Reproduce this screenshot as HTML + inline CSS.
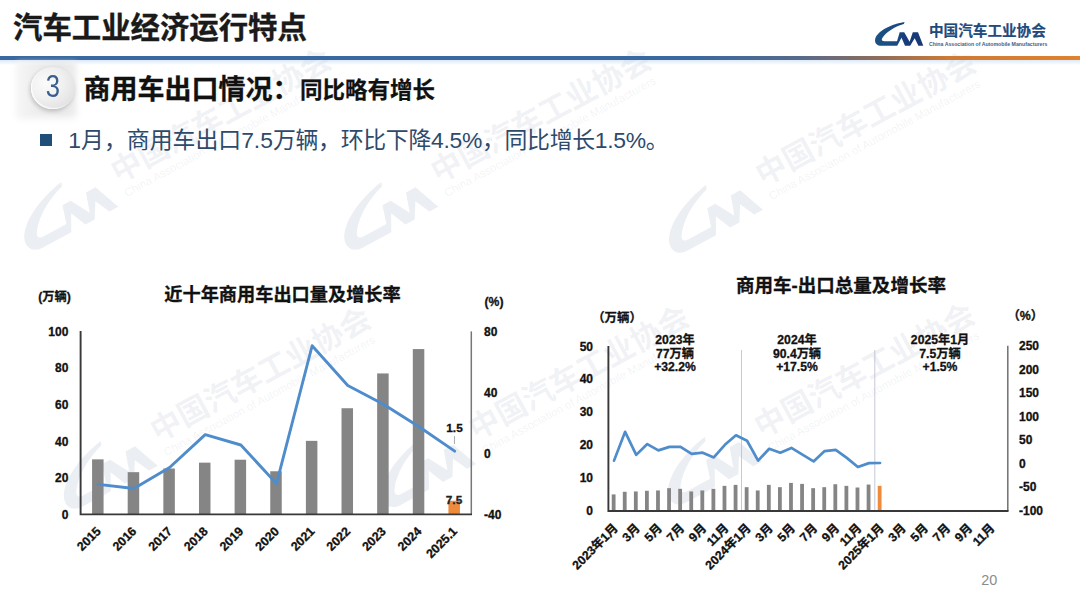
<!DOCTYPE html>
<html lang="zh-CN">
<head>
<meta charset="utf-8">
<title>汽车工业经济运行特点</title>
<style>
  html, body { margin: 0; padding: 0; background: #ffffff; }
  body { width: 1080px; height: 607px; overflow: hidden; }
  #slide {
    position: relative; width: 1080px; height: 607px; overflow: hidden;
    background: #ffffff;
    font-family: "Liberation Sans", "Noto Sans CJK SC", sans-serif;
    color: #111;
  }
  .abs { position: absolute; white-space: nowrap; line-height: 1; }
  #title { left: 13px; top: 13.2px; font-size: 29.4px; font-weight: bold; color: #1a1a1a; letter-spacing: 0px; -webkit-text-stroke: 0.35px #1a1a1a; }
  #rule { position: absolute; left: 0; top: 56.2px; width: 1080px; height: 3.5px;
    background: linear-gradient(to right, #3a699f 0%, #3a699f 64%, #566a8c 74%, #8c6c5c 81%, #cf7a32 88%, #e0822e 100%); }
  #rule2 { position: absolute; left: 0; top: 59.5px; width: 1080px; height: 5px;
    background: linear-gradient(to bottom, rgba(190,215,240,0.55), rgba(255,255,255,0)); }

  /* badge */
  #badge-bg { position: absolute; left: 17px; top: 62px; width: 59px; height: 53px;
    background: linear-gradient(to right, #f6f6f6 0%, #ededed 35%, #e6e6e6 70%, #eeeeee 100%);
    box-shadow: 0 3px 6px rgba(0,0,0,0.07); filter: blur(2.6px); }
  #badge { position: absolute; left: 30.5px; top: 67px; width: 44px; height: 41.5px; border-radius: 50%;
    background: radial-gradient(ellipse at 34% 38%, #fbfbfb 0%, #f1f1f1 40%, #e0e0e0 82%, #efefef 100%);
    box-shadow: -1px 2px 4px rgba(0,0,0,0.20), inset 1px -1px 1px rgba(255,255,255,0.9); }
  #badge-num { left: 31px; top: 71.3px; width: 44px; text-align: center; font-size: 30.5px; color: #3a5f8f; transform: scaleX(0.84); }

  #sec1 { left: 83.5px; top: 77px; font-size: 27px; font-weight: bold; color: #111; -webkit-text-stroke: 0.3px #111; }
  #sec2 { left: 300px; top: 80px; font-size: 22.5px; font-weight: bold; color: #111; -webkit-text-stroke: 0.25px #111; }

  #bullet { position: absolute; left: 40px; top: 134px; width: 12px; height: 12px; background: #1f4e79; }
  #btext { left: 68.3px; top: 128.5px; font-size: 22.88px; color: #2d4a6b; }

  #pageno { left: 981.3px; top: 572.6px; font-size: 14.4px; color: #8c8c8c; }

  /* logo */
  #logo-cn { left: 929px; top: 23.5px; font-size: 14.6px; font-weight: bold; color: #1f4a7c; -webkit-text-stroke: 0.2px #1f4a7c; }
  #logo-en { left: 929px; top: 41.8px; font-size: 5.2px; font-weight: bold; color: #3f5f86; }

  svg text { font-family: "Liberation Sans", "Noto Sans CJK SC", sans-serif; }
  svg text.hv { stroke: #111; stroke-width: 0.3px; paint-order: stroke; }
</style>
</head>
<body>
<div id="slide">

  <!-- WATERMARKS -->
  <svg class="abs" style="left:0;top:0" width="1080" height="607" viewBox="0 0 1080 607">
  <g fill="#6a7c9c">
  <g transform="translate(8,211) rotate(-28.5)"><path transform="scale(2.05)" fill-opacity="0.135" d="M29.6 0 C17 2 3 8.5 0.3 16.5 C-0.8 20.5 1.5 23.8 6.5 23.8 L22.2 23.8 L26.5 15.7 L30 23.8 L35.2 23.8 L39.7 16.2 L43.4 23.8 L48.3 23.8 L43 10.2 L37.8 10.2 L34.6 19.8 L29.2 10.2 L24.7 10.2 L22 19.2 L9.5 19.2 C6.5 19.2 6 17.5 8 15 C12 9.5 20 4.5 28.8 2 Z"/><text x="110" y="28.4" font-size="30.7" font-weight="bold" fill-opacity="0.10">中国汽车工业协会</text><text x="111" y="44.5" font-size="11.4" fill-opacity="0.095">China Association of Automobile Manufacturers</text></g>
  <g transform="translate(328,211) rotate(-28.5)"><path transform="scale(2.05)" fill-opacity="0.135" d="M29.6 0 C17 2 3 8.5 0.3 16.5 C-0.8 20.5 1.5 23.8 6.5 23.8 L22.2 23.8 L26.5 15.7 L30 23.8 L35.2 23.8 L39.7 16.2 L43.4 23.8 L48.3 23.8 L43 10.2 L37.8 10.2 L34.6 19.8 L29.2 10.2 L24.7 10.2 L22 19.2 L9.5 19.2 C6.5 19.2 6 17.5 8 15 C12 9.5 20 4.5 28.8 2 Z"/><text x="110" y="28.4" font-size="30.7" font-weight="bold" fill-opacity="0.10">中国汽车工业协会</text><text x="111" y="44.5" font-size="11.4" fill-opacity="0.095">China Association of Automobile Manufacturers</text></g>
  <g transform="translate(652.7,214) rotate(-28.5)"><path transform="scale(2.05)" fill-opacity="0.135" d="M29.6 0 C17 2 3 8.5 0.3 16.5 C-0.8 20.5 1.5 23.8 6.5 23.8 L22.2 23.8 L26.5 15.7 L30 23.8 L35.2 23.8 L39.7 16.2 L43.4 23.8 L48.3 23.8 L43 10.2 L37.8 10.2 L34.6 19.8 L29.2 10.2 L24.7 10.2 L22 19.2 L9.5 19.2 C6.5 19.2 6 17.5 8 15 C12 9.5 20 4.5 28.8 2 Z"/><text x="110" y="28.4" font-size="30.7" font-weight="bold" fill-opacity="0.10">中国汽车工业协会</text><text x="111" y="44.5" font-size="11.4" fill-opacity="0.095">China Association of Automobile Manufacturers</text></g>
  <g transform="translate(47.5,470) rotate(-28.5)"><path transform="scale(2.05)" fill-opacity="0.135" d="M29.6 0 C17 2 3 8.5 0.3 16.5 C-0.8 20.5 1.5 23.8 6.5 23.8 L22.2 23.8 L26.5 15.7 L30 23.8 L35.2 23.8 L39.7 16.2 L43.4 23.8 L48.3 23.8 L43 10.2 L37.8 10.2 L34.6 19.8 L29.2 10.2 L24.7 10.2 L22 19.2 L9.5 19.2 C6.5 19.2 6 17.5 8 15 C12 9.5 20 4.5 28.8 2 Z"/><text x="110" y="28.4" font-size="30.7" font-weight="bold" fill-opacity="0.10">中国汽车工业协会</text><text x="111" y="44.5" font-size="11.4" fill-opacity="0.095">China Association of Automobile Manufacturers</text></g>
  <g transform="translate(365.7,468.4) rotate(-28.5)"><path transform="scale(2.05)" fill-opacity="0.135" d="M29.6 0 C17 2 3 8.5 0.3 16.5 C-0.8 20.5 1.5 23.8 6.5 23.8 L22.2 23.8 L26.5 15.7 L30 23.8 L35.2 23.8 L39.7 16.2 L43.4 23.8 L48.3 23.8 L43 10.2 L37.8 10.2 L34.6 19.8 L29.2 10.2 L24.7 10.2 L22 19.2 L9.5 19.2 C6.5 19.2 6 17.5 8 15 C12 9.5 20 4.5 28.8 2 Z"/><text x="110" y="28.4" font-size="30.7" font-weight="bold" fill-opacity="0.10">中国汽车工业协会</text><text x="111" y="44.5" font-size="11.4" fill-opacity="0.095">China Association of Automobile Manufacturers</text></g>
  <g transform="translate(651.6,465.8) rotate(-28.5)"><path transform="scale(2.05)" fill-opacity="0.135" d="M29.6 0 C17 2 3 8.5 0.3 16.5 C-0.8 20.5 1.5 23.8 6.5 23.8 L22.2 23.8 L26.5 15.7 L30 23.8 L35.2 23.8 L39.7 16.2 L43.4 23.8 L48.3 23.8 L43 10.2 L37.8 10.2 L34.6 19.8 L29.2 10.2 L24.7 10.2 L22 19.2 L9.5 19.2 C6.5 19.2 6 17.5 8 15 C12 9.5 20 4.5 28.8 2 Z"/><text x="110" y="28.4" font-size="30.7" font-weight="bold" fill-opacity="0.10">中国汽车工业协会</text><text x="111" y="44.5" font-size="11.4" fill-opacity="0.095">China Association of Automobile Manufacturers</text></g>
  </g></svg>

  <div id="title" class="abs">汽车工业经济运行特点</div>
  <div id="rule"></div>
  <div id="rule2"></div>

  <!-- logo -->
  <svg class="abs" style="left:875px; top:21.6px;" width="50" height="25" viewBox="0 0 50 25">
    <linearGradient id="lg" x1="0" y1="0" x2="1" y2="0"><stop offset="0" stop-color="#1c5283"/><stop offset="0.45" stop-color="#1b4b80"/><stop offset="0.62" stop-color="#173c7a"/><stop offset="1" stop-color="#173a74"/></linearGradient>
    <path fill="url(#lg)" d="M29.6 0 C17 2 3 8.5 0.3 16.5 C-0.8 20.5 1.5 23.8 6.5 23.8 L22.2 23.8 L26.5 15.7 L30 23.8 L35.2 23.8 L39.7 16.2 L43.4 23.8 L48.3 23.8 L43 10.2 L37.8 10.2 L34.6 19.8 L29.2 10.2 L24.7 10.2 L22 19.2 L9.5 19.2 C6.5 19.2 6 17.5 8 15 C12 9.5 20 4.5 28.8 2 Z"/>
  </svg>
  <div id="logo-cn" class="abs">中国汽车工业协会</div>
  <div id="logo-en" class="abs">China Association of Automobile Manufacturers</div>

  <!-- section header -->
  <div id="badge-bg"></div>
  <div id="badge"></div>
  <div id="badge-num" class="abs">3</div>
  <div id="sec1" class="abs">商用车出口情况：</div>
  <div id="sec2" class="abs">同比略有增长</div>

  <div id="bullet"></div>
  <div id="btext" class="abs">1月，商用车出口7.5<span style="letter-spacing:-0.3px">万辆，环比下降4.5%，同比增长1.5%。</span></div>

  <!-- CHARTS -->
  <svg class="abs" style="left:0;top:0" width="1080" height="607" viewBox="0 0 1080 607">
  <g id="chart-left">
  <text class="hv" x="282.5" y="301" font-size="18.2" font-weight="bold" text-anchor="middle" fill="#111">近十年商用车出口量及增长率</text>
  <text class="hv" x="54.5" y="301.4" font-size="12.2" font-weight="bold" text-anchor="middle" fill="#111">(万辆)</text>
  <text class="hv" x="494" y="305.8" font-size="12.2" font-weight="bold" text-anchor="middle" fill="#111">(%)</text>
  <rect x="92.07" y="459.36" width="11.5" height="55.14" fill="#858585"/>
  <rect x="127.7" y="472.18" width="11.5" height="42.32" fill="#858585"/>
  <rect x="163.34" y="468.52" width="11.5" height="45.98" fill="#858585"/>
  <rect x="198.98" y="462.65" width="11.5" height="51.85" fill="#858585"/>
  <rect x="234.61" y="459.72" width="11.5" height="54.78" fill="#858585"/>
  <rect x="270.25" y="471.26" width="11.5" height="43.24" fill="#858585"/>
  <rect x="305.89" y="440.85" width="11.5" height="73.65" fill="#858585"/>
  <rect x="341.52" y="408.24" width="11.5" height="106.26" fill="#858585"/>
  <rect x="377.16" y="373.44" width="11.5" height="141.06" fill="#858585"/>
  <rect x="412.8" y="349.07" width="11.5" height="165.43" fill="#858585"/>
  <rect x="448.43" y="500.76" width="11.5" height="13.74" fill="#ed8a3c"/>
  <path d="M471.3 331.4 V514" fill="none" stroke="#767676" stroke-width="1.5"/><path d="M80.6 331 V514.4 H472" fill="none" stroke="#383838" stroke-width="1.9"/>
  <text class="hv" x="68.4" y="518.8" font-size="12" font-weight="bold" text-anchor="end" fill="#111">0</text>
  <text class="hv" x="68.4" y="482.16" font-size="12" font-weight="bold" text-anchor="end" fill="#111">20</text>
  <text class="hv" x="68.4" y="445.52" font-size="12" font-weight="bold" text-anchor="end" fill="#111">40</text>
  <text class="hv" x="68.4" y="408.88" font-size="12" font-weight="bold" text-anchor="end" fill="#111">60</text>
  <text class="hv" x="68.4" y="372.24" font-size="12" font-weight="bold" text-anchor="end" fill="#111">80</text>
  <text class="hv" x="68.4" y="335.6" font-size="12" font-weight="bold" text-anchor="end" fill="#111">100</text>
  <text class="hv" x="484" y="518.78" font-size="12" font-weight="bold" fill="#111">-40</text>
  <text class="hv" x="484" y="457.7" font-size="12" font-weight="bold" fill="#111">0</text>
  <text class="hv" x="484" y="396.62" font-size="12" font-weight="bold" fill="#111">40</text>
  <text class="hv" x="484" y="335.54" font-size="12" font-weight="bold" fill="#111">80</text>
  <polyline points="98.32,484.4 133.95,488.52 169.59,467.45 205.23,434.62 240.86,445 276.5,483.63 312.14,345.75 347.77,385.45 383.41,404.23 419.05,426.68 454.68,451.11" fill="none" stroke="#4f8ccb" stroke-width="2.9" stroke-linejoin="round" stroke-linecap="round"/>
  <text class="hv" transform="translate(101.62,532) rotate(-45)" font-size="12.4" font-weight="bold" text-anchor="end" fill="#111">2015</text>
  <text class="hv" transform="translate(137.25,532) rotate(-45)" font-size="12.4" font-weight="bold" text-anchor="end" fill="#111">2016</text>
  <text class="hv" transform="translate(172.89,532) rotate(-45)" font-size="12.4" font-weight="bold" text-anchor="end" fill="#111">2017</text>
  <text class="hv" transform="translate(208.53,532) rotate(-45)" font-size="12.4" font-weight="bold" text-anchor="end" fill="#111">2018</text>
  <text class="hv" transform="translate(244.16,532) rotate(-45)" font-size="12.4" font-weight="bold" text-anchor="end" fill="#111">2019</text>
  <text class="hv" transform="translate(279.8,532) rotate(-45)" font-size="12.4" font-weight="bold" text-anchor="end" fill="#111">2020</text>
  <text class="hv" transform="translate(315.44,532) rotate(-45)" font-size="12.4" font-weight="bold" text-anchor="end" fill="#111">2021</text>
  <text class="hv" transform="translate(351.07,532) rotate(-45)" font-size="12.4" font-weight="bold" text-anchor="end" fill="#111">2022</text>
  <text class="hv" transform="translate(386.71,532) rotate(-45)" font-size="12.4" font-weight="bold" text-anchor="end" fill="#111">2023</text>
  <text class="hv" transform="translate(422.35,532) rotate(-45)" font-size="12.4" font-weight="bold" text-anchor="end" fill="#111">2024</text>
  <text class="hv" transform="translate(457.98,532) rotate(-45)" font-size="12.4" font-weight="bold" text-anchor="end" fill="#111">2025.1</text>
  <text class="hv" x="454.5" y="432.3" font-size="11.8" font-weight="bold" text-anchor="middle" fill="#111">1.5</text>
  <path d="M454.5 436 V444" stroke="#9a9a9a" stroke-width="0.8"/>
  <text class="hv" x="454" y="504" font-size="11.8" font-weight="bold" text-anchor="middle" fill="#222">7.5</text>
  </g>
  <g id="chart-right">
  <text class="hv" x="841" y="292" font-size="18.55" font-weight="bold" text-anchor="middle" fill="#111">商用车-出口总量及增长率</text>
  <text class="hv" x="617" y="322" font-size="12.4" font-weight="bold" text-anchor="middle" fill="#111">（万辆）</text>
  <text class="hv" x="1025.3" y="319.7" font-size="12.4" font-weight="bold" text-anchor="middle" fill="#111">（%）</text>
  <rect x="611.74" y="494.4" width="3.8" height="16.1" fill="#858585"/>
  <rect x="622.83" y="491.78" width="3.8" height="18.72" fill="#858585"/>
  <rect x="633.91" y="491.45" width="3.8" height="19.05" fill="#858585"/>
  <rect x="644.99" y="490.79" width="3.8" height="19.71" fill="#858585"/>
  <rect x="656.08" y="490.46" width="3.8" height="20.04" fill="#858585"/>
  <rect x="667.16" y="488.16" width="3.8" height="22.34" fill="#858585"/>
  <rect x="678.24" y="488.82" width="3.8" height="21.68" fill="#858585"/>
  <rect x="689.33" y="491.45" width="3.8" height="19.05" fill="#858585"/>
  <rect x="700.41" y="490.46" width="3.8" height="20.04" fill="#858585"/>
  <rect x="711.49" y="488.82" width="3.8" height="21.68" fill="#858585"/>
  <rect x="722.58" y="485.86" width="3.8" height="24.64" fill="#858585"/>
  <rect x="733.66" y="484.88" width="3.8" height="25.62" fill="#858585"/>
  <rect x="744.74" y="487.18" width="3.8" height="23.32" fill="#858585"/>
  <rect x="755.83" y="490.46" width="3.8" height="20.04" fill="#858585"/>
  <rect x="766.91" y="484.88" width="3.8" height="25.62" fill="#858585"/>
  <rect x="777.99" y="487.18" width="3.8" height="23.32" fill="#858585"/>
  <rect x="789.08" y="482.91" width="3.8" height="27.59" fill="#858585"/>
  <rect x="800.16" y="483.89" width="3.8" height="26.61" fill="#858585"/>
  <rect x="811.24" y="488.16" width="3.8" height="22.34" fill="#858585"/>
  <rect x="822.33" y="487.18" width="3.8" height="23.32" fill="#858585"/>
  <rect x="833.41" y="484.22" width="3.8" height="26.28" fill="#858585"/>
  <rect x="844.49" y="485.86" width="3.8" height="24.64" fill="#858585"/>
  <rect x="855.58" y="487.5" width="3.8" height="23" fill="#858585"/>
  <rect x="866.66" y="484.55" width="3.8" height="25.95" fill="#858585"/>
  <rect x="877.74" y="485.86" width="3.8" height="24.64" fill="#ed8a3c"/>
  <path d="M741.5 350 V510 M874.8 350 V510" stroke="#b9bfd0" stroke-width="0.85" fill="none"/>
  <path d="M1007.8 345.8 V511" fill="none" stroke="#707070" stroke-width="1.5"/><path d="M608.4 346 V511 H1008.5" fill="none" stroke="#383838" stroke-width="1.9"/>
  <text class="hv" x="593" y="514.8" font-size="12" font-weight="bold" text-anchor="end" fill="#111">0</text>
  <text class="hv" x="593" y="481.95" font-size="12" font-weight="bold" text-anchor="end" fill="#111">10</text>
  <text class="hv" x="593" y="449.1" font-size="12" font-weight="bold" text-anchor="end" fill="#111">20</text>
  <text class="hv" x="593" y="416.25" font-size="12" font-weight="bold" text-anchor="end" fill="#111">30</text>
  <text class="hv" x="593" y="383.4" font-size="12" font-weight="bold" text-anchor="end" fill="#111">40</text>
  <text class="hv" x="593" y="350.55" font-size="12" font-weight="bold" text-anchor="end" fill="#111">50</text>
  <text class="hv" x="1019" y="514.54" font-size="12" font-weight="bold" fill="#111">-100</text>
  <text class="hv" x="1019" y="491.07" font-size="12" font-weight="bold" fill="#111">-50</text>
  <text class="hv" x="1019" y="467.6" font-size="12" font-weight="bold" fill="#111">0</text>
  <text class="hv" x="1019" y="444.13" font-size="12" font-weight="bold" fill="#111">50</text>
  <text class="hv" x="1019" y="420.66" font-size="12" font-weight="bold" fill="#111">100</text>
  <text class="hv" x="1019" y="397.19" font-size="12" font-weight="bold" fill="#111">150</text>
  <text class="hv" x="1019" y="373.72" font-size="12" font-weight="bold" fill="#111">200</text>
  <text class="hv" x="1019" y="350.25" font-size="12" font-weight="bold" fill="#111">250</text>
  <polyline points="614.04,460.62 625.12,431.85 636.21,454.85 647.29,444.05 658.38,450.34 669.46,446.87 680.54,446.87 691.62,453.91 702.71,452.69 713.79,457.48 724.88,444.81 735.96,435.28 747.04,440.77 758.12,460.62 769.21,448.75 780.29,452.69 791.38,447.95 802.46,454.71 813.54,461.42 824.62,451.1 835.71,449.92 846.79,457.9 857.88,467.06 868.96,463.11 880.04,463.02" fill="none" stroke="#4f8ccb" stroke-width="2.7" stroke-linejoin="round" stroke-linecap="round"/>
  <text class="hv" x="675" y="344.4" font-size="12.2" font-weight="bold" text-anchor="middle" fill="#111">2023年</text>
  <text class="hv" x="675" y="357.9" font-size="12.2" font-weight="bold" text-anchor="middle" fill="#111">77万辆</text>
  <text class="hv" x="675" y="371.4" font-size="12.2" font-weight="bold" text-anchor="middle" fill="#111">+32.2%</text>
  <text class="hv" x="797" y="344.4" font-size="12.2" font-weight="bold" text-anchor="middle" fill="#111">2024年</text>
  <text class="hv" x="797" y="357.9" font-size="12.2" font-weight="bold" text-anchor="middle" fill="#111">90.4万辆</text>
  <text class="hv" x="797" y="371.4" font-size="12.2" font-weight="bold" text-anchor="middle" fill="#111">+17.5%</text>
  <text class="hv" x="940" y="344.4" font-size="12.2" font-weight="bold" text-anchor="middle" fill="#111">2025年1月</text>
  <text class="hv" x="940" y="357.9" font-size="12.2" font-weight="bold" text-anchor="middle" fill="#111">7.5万辆</text>
  <text class="hv" x="940" y="371.4" font-size="12.2" font-weight="bold" text-anchor="middle" fill="#111">+1.5%</text>
  <text class="hv" transform="translate(618.54,529) rotate(-45)" font-size="12.2" font-weight="bold" text-anchor="end" fill="#111">2023年1月</text>
  <text class="hv" transform="translate(640.71,529) rotate(-45)" font-size="12.2" font-weight="bold" text-anchor="end" fill="#111">3月</text>
  <text class="hv" transform="translate(662.88,529) rotate(-45)" font-size="12.2" font-weight="bold" text-anchor="end" fill="#111">5月</text>
  <text class="hv" transform="translate(685.04,529) rotate(-45)" font-size="12.2" font-weight="bold" text-anchor="end" fill="#111">7月</text>
  <text class="hv" transform="translate(707.21,529) rotate(-45)" font-size="12.2" font-weight="bold" text-anchor="end" fill="#111">9月</text>
  <text class="hv" transform="translate(729.38,529) rotate(-45)" font-size="12.2" font-weight="bold" text-anchor="end" fill="#111">11月</text>
  <text class="hv" transform="translate(751.54,529) rotate(-45)" font-size="12.2" font-weight="bold" text-anchor="end" fill="#111">2024年1月</text>
  <text class="hv" transform="translate(773.71,529) rotate(-45)" font-size="12.2" font-weight="bold" text-anchor="end" fill="#111">3月</text>
  <text class="hv" transform="translate(795.88,529) rotate(-45)" font-size="12.2" font-weight="bold" text-anchor="end" fill="#111">5月</text>
  <text class="hv" transform="translate(818.04,529) rotate(-45)" font-size="12.2" font-weight="bold" text-anchor="end" fill="#111">7月</text>
  <text class="hv" transform="translate(840.21,529) rotate(-45)" font-size="12.2" font-weight="bold" text-anchor="end" fill="#111">9月</text>
  <text class="hv" transform="translate(862.38,529) rotate(-45)" font-size="12.2" font-weight="bold" text-anchor="end" fill="#111">11月</text>
  <text class="hv" transform="translate(884.54,529) rotate(-45)" font-size="12.2" font-weight="bold" text-anchor="end" fill="#111">2025年1月</text>
  <text class="hv" transform="translate(906.71,529) rotate(-45)" font-size="12.2" font-weight="bold" text-anchor="end" fill="#111">3月</text>
  <text class="hv" transform="translate(928.88,529) rotate(-45)" font-size="12.2" font-weight="bold" text-anchor="end" fill="#111">5月</text>
  <text class="hv" transform="translate(951.04,529) rotate(-45)" font-size="12.2" font-weight="bold" text-anchor="end" fill="#111">7月</text>
  <text class="hv" transform="translate(973.21,529) rotate(-45)" font-size="12.2" font-weight="bold" text-anchor="end" fill="#111">9月</text>
  <text class="hv" transform="translate(995.38,529) rotate(-45)" font-size="12.2" font-weight="bold" text-anchor="end" fill="#111">11月</text>
  </g>
  </svg>

  <div id="pageno" class="abs">20</div>
</div>
</body>
</html>
